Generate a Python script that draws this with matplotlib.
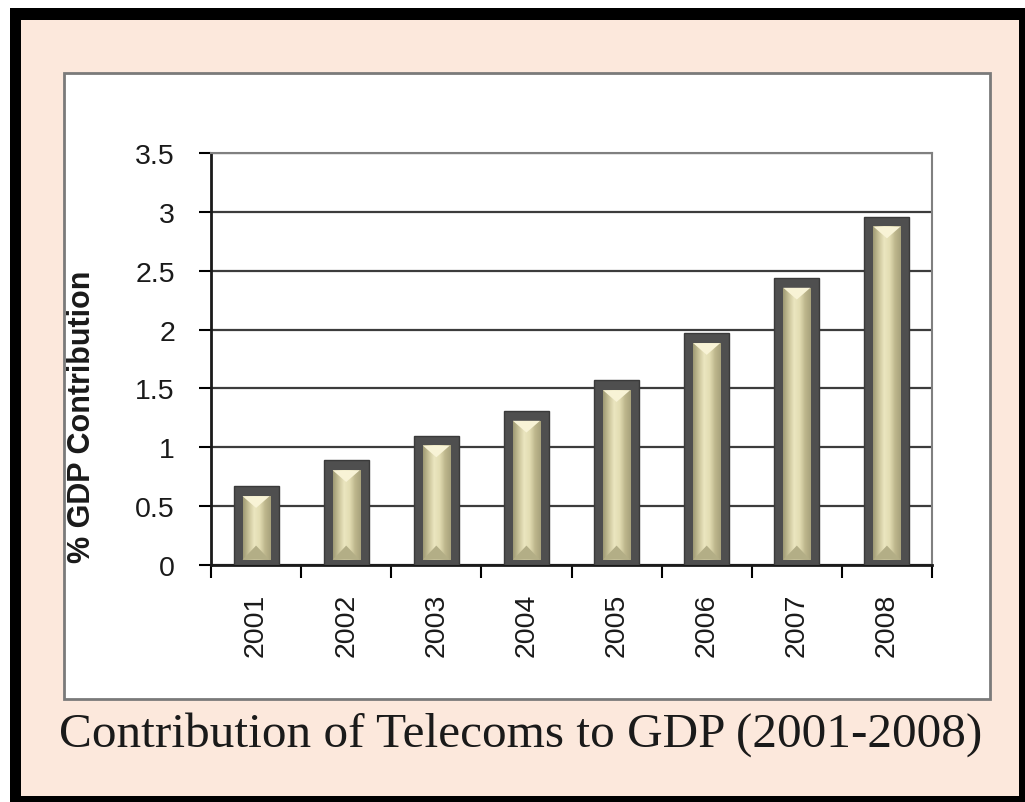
import numpy as np
import matplotlib.pyplot as plt
from matplotlib.patches import Rectangle, Polygon
from matplotlib.colors import LinearSegmentedColormap

years = ['2001', '2002', '2003', '2004', '2005', '2006', '2007', '2008']
gdp_share = [0.67, 0.89, 1.10, 1.31, 1.57, 1.97, 2.44, 2.96]
y_ticks = [0, 0.5, 1, 1.5, 2, 2.5, 3, 3.5]
y_tick_labels = ['0', '0.5', '1', '1.5', '2', '2.5', '3', '3.5']

W, H = 1025, 803
fig = plt.figure(figsize=(W / 100, H / 100), dpi=100)
fig.patch.set_facecolor('white')


def box(x0, y0, x1, y1, **kw):
    # rectangle given in pixels measured from the top-left corner
    r = Rectangle((x0 / W, 1 - y1 / H), (x1 - x0) / W, (y1 - y0) / H,
                  transform=fig.transFigure, **kw)
    fig.patches.append(r)
    return r


box(10, 9, 1025, 803, facecolor='black', edgecolor='none', zorder=0)
box(21, 21, 1019, 797, facecolor='#fce8dc', edgecolor='none', zorder=1)
box(64, 74, 990, 700, facecolor='white', edgecolor='#7a7a7a', lw=2, zorder=2)

ax = fig.add_axes([211 / W, 1 - 566 / H, (932 - 211) / W, (566 - 154) / H])
ax.set_zorder(3)
ax.set_facecolor('white')

khaki = LinearSegmentedColormap.from_list(
    'khaki', ['#9f9a74', '#c9c399', '#ebe6c0', '#e2dcb2', '#bdb68c', '#a8a27c'])
grad = np.linspace(0, 1, 64).reshape(1, -1)

x = np.arange(len(years))
ax.bar(x, gdp_share, width=0.5, color='#4f4f4f', edgecolor='#3a3a3a',
       linewidth=1, zorder=3)

inner = 0.15
for xi, v in zip(x, gdp_share):
    top = v - 0.085
    bot = 0.045
    ax.imshow(grad, cmap=khaki, aspect='auto', zorder=4,
              extent=[xi - inner, xi + inner, bot, top])
    # bevelled cap and foot of each bar
    ax.add_patch(Polygon([(xi - inner, top), (xi + inner, top), (xi, top - 0.1)],
                         closed=True, facecolor='#f8f3d6', edgecolor='none', zorder=5))
    ax.add_patch(Polygon([(xi - inner, bot), (xi + inner, bot), (xi, bot + 0.12)],
                         closed=True, facecolor='#b3ae86', edgecolor='none', zorder=5))

ax.set_xlim(-0.5, len(years) - 0.5)
ax.set_ylim(0, 3.5)

ax.set_yticks(y_ticks)
ax.set_yticklabels(y_tick_labels, fontsize=20.5, family='Liberation Sans', color='#1a1a1a')
ax.set_xticks(x)
ax.set_xticklabels(years, rotation=90, fontsize=20.5, family='Liberation Sans', color='#1a1a1a')
ax.set_xticks(np.arange(len(years) + 1) - 0.5, minor=True)

ax.tick_params(axis='y', direction='out', length=9, width=1.5, pad=17)
ax.tick_params(axis='x', which='major', length=0, pad=20)
ax.tick_params(axis='x', which='minor', direction='out', length=9, width=1.5)

ax.yaxis.grid(True, color='#3c3c3c', linewidth=1.6)
ax.set_axisbelow(True)

for side in ['left', 'bottom']:
    ax.spines[side].set_linewidth(2)
    ax.spines[side].set_color('#1a1a1a')
for side in ['top', 'right']:
    ax.spines[side].set_linewidth(1.5)
    ax.spines[side].set_color('#808080')

ax.set_ylabel('% GDP Contribution', fontsize=22, fontweight='bold',
              family='Liberation Sans', color='#1a1a1a')
ax.yaxis.set_label_coords(-0.158, 0.362)

fig.text(521 / W, 1 - 747 / H, 'Contribution of Telecoms to GDP (2001-2008)',
         fontsize=35.5, family='Liberation Serif', color='#1a1a1a',
         ha='center', va='baseline', zorder=4)

fig.savefig('out.png', dpi=100)
